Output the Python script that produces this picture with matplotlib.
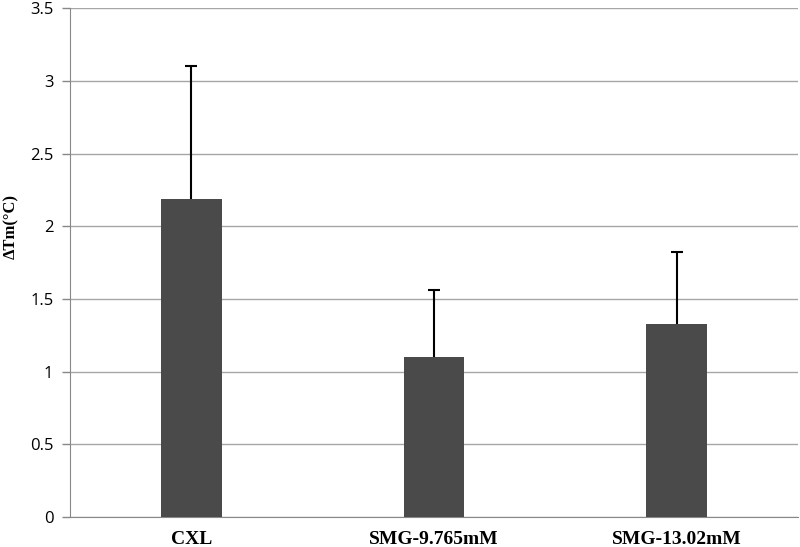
import matplotlib.pyplot as plt

groups = ['CXL', 'SMG-9.765mM', 'SMG-13.02mM']
dtm = [2.19, 1.10, 1.33]
err = [0.91, 0.46, 0.49]
yticks = [0, 0.5, 1, 1.5, 2, 2.5, 3, 3.5]

fig = plt.figure(figsize=(8, 5.47), dpi=100)
ax = fig.add_axes([0.0875, 0.055, 0.91, 0.93])

x = range(len(groups))
ax.bar(x, dtm, width=0.25, color='#4a4a4a', zorder=3)
eb = ax.errorbar(x, dtm, yerr=[[0] * len(err), err], fmt='none', ecolor='black',
                 elinewidth=1.5, capsize=4, capthick=1.5, zorder=4)
# only the upper cap, like Excel's "plus" error bars
eb[1][0].set_visible(False)

ax.set_xlim(-0.5, 2.5)
ax.set_ylim(0, 3.5)
ax.set_yticks(yticks)
ax.set_yticklabels([f'{t:g}' for t in yticks], fontsize=12, family='Open Sans')
ax.yaxis.grid(True, color='#a6a6a6', linewidth=1, zorder=0)
ax.set_xticks(list(x))
ax.set_xticklabels(groups, fontsize=14, fontweight='bold', family='Liberation Serif')
ax.tick_params(axis='x', length=0, pad=10)
ax.tick_params(axis='y', length=6, color='#888888', width=1, pad=6)

for s in ['top', 'right']:
    ax.spines[s].set_visible(False)
for s in ['left', 'bottom']:
    ax.spines[s].set_color('#888888')

ax.set_ylabel('ΔTm(°C)', fontsize=12, fontweight='bold', family='Liberation Serif')
ax.yaxis.set_label_coords(-0.07, 0.57)

fig.savefig('out.png', dpi=100)
